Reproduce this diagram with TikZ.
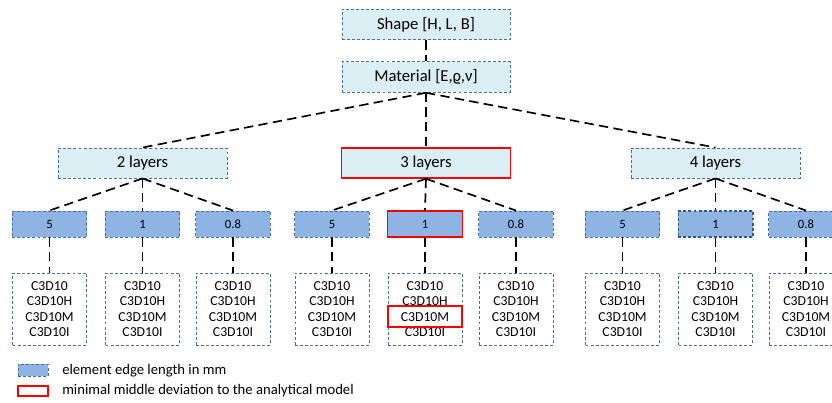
\documentclass[tikz,border=0pt]{standalone}
\usepackage{fontspec}
\setmainfont{Carlito}
\definecolor{lightbox}{HTML}{DAEEF3}
\definecolor{elemfill}{HTML}{8EB4E3}
\definecolor{bordblue}{HTML}{41719C}
\definecolor{hired}{HTML}{FF0000}
\begin{document}
\begin{tikzpicture}[x=0.75pt,y=-0.75pt,
  topbox/.style={draw=bordblue, dash pattern=on 2.2pt off 1.6pt, line width=0.7pt, fill=lightbox,
    minimum width=126pt, minimum height=23pt, inner sep=0pt, font=\fontsize{12.5}{14}\selectfont},
  elembox/.style={draw=bordblue, dash pattern=on 2.2pt off 1.6pt, line width=0.7pt, fill=elemfill,
    minimum width=56pt, minimum height=19.5pt, inner sep=0pt, font=\fontsize{9.5}{11}\selectfont},
  listbox/.style={draw=bordblue, dash pattern=on 2.2pt off 1.6pt, line width=0.7pt, fill=white,
    minimum width=55.5pt, minimum height=54pt, inner sep=0pt, align=center,
    font=\fontsize{10.3}{11.6}\selectfont},
  redframe/.style={draw=hired, solid, line width=1.1pt},
  conn/.style={draw=black, dash pattern=on 7pt off 4pt, line width=1.25pt},
  legtext/.style={anchor=west, inner sep=0pt, font=\fontsize{11}{13}\selectfont}]
\useasboundingbox (0,0) rectangle (832,403);
\clip (0,0) rectangle (832,403);

% top
\node[topbox] (shape) at (426,24.5) {Shape [H, L, B]};
\node[topbox] (mat) at (426,77) {Material [E,ϱ,ν]};

% layers
\node[topbox, minimum width=126.75pt, minimum height=22.5pt] (L2) at (142.5,163) {2 layers};
\node[topbox, minimum width=126.75pt, minimum height=22.5pt, redframe] (L3) at (426,163) {3 layers};
\node[topbox, minimum width=126.75pt, minimum height=22.5pt] (L4) at (715.5,163) {4 layers};

% element boxes
\node[elembox] (a5) at (49.5,224) {5};
\node[elembox] (a1) at (142.5,224) {1};
\node[elembox] (a8) at (233,224) {0.8};
\node[elembox] (b5) at (332,224) {5};
\node[elembox, redframe] (b1) at (425,224) {1};
\node[elembox] (b8) at (516,224) {0.8};
\node[elembox] (c5) at (622.5,224) {5};
\node[elembox, line width=1pt, draw=bordblue!80!black] (c1) at (715.5,224) {1};
\node[elembox] (c8) at (806,224) {0.8};

% list boxes
\foreach \n/\x in {la5/49.5, la1/142.5, la8/233, lb5/332, lb1/425, lb8/516, lc5/622.5, lc1/715.5, lc8/806}{
  \node[listbox] (\n) at (\x,309) {C3D10\\C3D10H\\C3D10M\\C3D10I};
}
\node[redframe, minimum width=55.5pt, minimum height=15.5pt, inner sep=0pt] (hl) at (425,316.5) {};

% connectors
\draw[conn] (shape.south) -- (mat.north);
\foreach \t in {L2,L3,L4} \draw[conn] (mat.south) -- (\t.north);
\foreach \t in {a5,a1,a8} \draw[conn] (L2.south) -- (\t.north);
\foreach \t in {b5,b1,b8} \draw[conn] (L3.south) -- (\t.north);
\foreach \t in {c5,c1,c8} \draw[conn] (L4.south) -- (\t.north);
\foreach \s/\t in {a5/la5,a1/la1,a8/la8,b5/lb5,b1/lb1,b8/lb8,c5/lc5,c1/lc1,c8/lc8}
  \draw[conn] (\s.south) -- (\t.north);

% legend
\node[elembox, minimum width=22.5pt, minimum height=9pt] (lg1) at (33,370) {};
\node[legtext] (lt1) at (62,371) {element edge length in mm};
\node[redframe, minimum width=22.5pt, minimum height=7.5pt, inner sep=0pt] (lg2) at (33,391) {};
\node[legtext] (lt2) at (62,391) {minimal middle deviation to the analytical model};
\end{tikzpicture}
\end{document}
